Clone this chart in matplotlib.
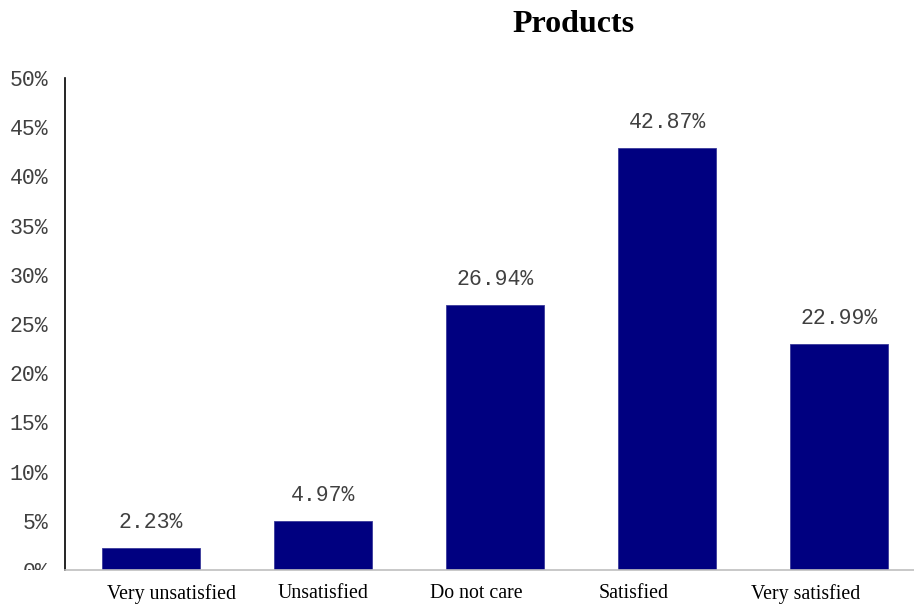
import matplotlib.pyplot as plt
from matplotlib.transforms import Bbox, TransformedBbox

categories = ['Very unsatisfied', 'Unsatisfied', 'Do not care', 'Satisfied', 'Very satisfied']
shares = [2.23, 4.97, 26.94, 42.87, 22.99]
yticks = [0, 5, 10, 15, 20, 25, 30, 35, 40, 45, 50]

# the category labels in the original do not sit exactly under the bars;
# horizontal nudge of each label, in pixels
label_nudge_px = [21, 0, -19, -33, -33]

NAVY = '#000080'
GREY_TXT = '#404040'
DPI = 100

fig = plt.figure(figsize=(9.14, 6.06), dpi=DPI)
ax = fig.add_axes([0.0711, 0.0594, 0.9289, 0.812])

x = list(range(len(categories)))
ax.bar(x, shares, width=0.57, color=NAVY, edgecolor='#3a3a9a', linewidth=0.6)

for xi, v in zip(x, shares):
    ax.text(xi, v + 2.6, f'{v:.2f}%', ha='center', va='center',
            family='Liberation Mono', fontsize=15.5, color=GREY_TXT)

ax.set_xlim(-0.5, 4.436)
ax.set_ylim(0, 50)
ax.set_xticks(x)
ax.set_xticklabels([])
for xi, name, dx in zip(x, categories, label_nudge_px):
    ax.annotate(name, xy=(xi, 0), xycoords=ax.get_xaxis_transform(),
                xytext=(dx * 72 / DPI, -10), textcoords='offset points',
                ha='center', va='top', family='Liberation Serif',
                fontsize=14.3, color='black', annotation_clip=False)

ax.set_yticks(yticks)
ax.set_yticklabels([f'{t}%' for t in yticks], family='Liberation Mono',
                   fontsize=15.5, color=GREY_TXT)
ax.tick_params(axis='both', length=0)
ax.tick_params(axis='y', pad=12)

for s in ('top', 'right'):
    ax.spines[s].set_visible(False)
ax.spines['left'].set_color('black')
ax.spines['left'].set_linewidth(1.2)
ax.spines['bottom'].set_color('#bfbfbf')
ax.spines['bottom'].set_linewidth(1.2)

# the bottom label is cut off at the axis line in the original
clip = TransformedBbox(Bbox([[0, 0.0594], [1, 1]]), fig.transFigure)
for lbl in ax.get_yticklabels():
    lbl.set_clip_box(clip)
    lbl.set_clip_on(True)

fig.text(0.627, 0.960, 'Products', ha='center', va='center',
         family='Liberation Serif', fontsize=23, fontweight='bold')

fig.savefig('out.png', dpi=DPI)
